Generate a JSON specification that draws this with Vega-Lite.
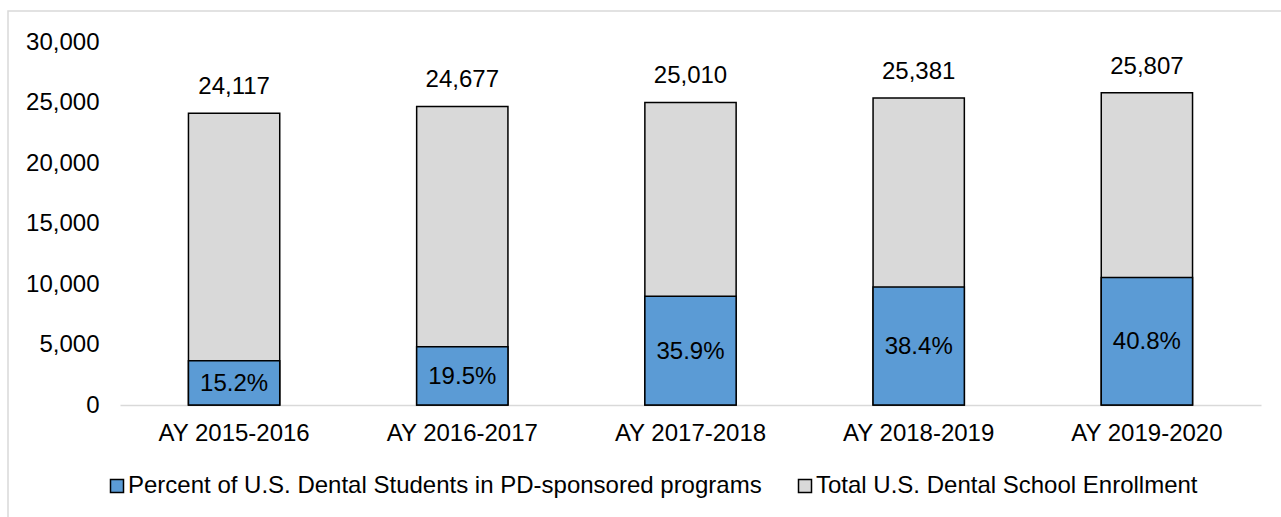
{
  "$schema": "https://vega.github.io/schema/vega-lite/v6.json",
  "width": 1274,
  "height": 507,
  "autosize": {"type": "none"},
  "padding": {"left": 8, "top": 11, "right": 0, "bottom": 0},
  "background": "white",
  "config": {
    "view": {"stroke": "#d9d9d9", "strokeWidth": 1.5},
    "font": "Liberation Sans"
  },
  "data": {
    "values": [
      {"year": "AY 2015-2016", "total": 24117, "pd": 3666, "pct": 0.152},
      {"year": "AY 2016-2017", "total": 24677, "pd": 4812, "pct": 0.195},
      {"year": "AY 2017-2018", "total": 25010, "pd": 8979, "pct": 0.359},
      {"year": "AY 2018-2019", "total": 25381, "pd": 9746, "pct": 0.384},
      {"year": "AY 2019-2020", "total": 25807, "pd": 10529, "pct": 0.408}
    ]
  },
  "encoding": {
    "x": {
      "field": "year",
      "type": "nominal",
      "sort": null,
      "scale": {"range": [112, 1253], "paddingInner": 0.6, "paddingOuter": 0.3},
      "axis": {
        "title": null,
        "labelAngle": 0,
        "labelFontSize": 24,
        "labelColor": "black",
        "domainColor": "#d9d9d9",
        "domainWidth": 1.5,
        "ticks": false,
        "tickSize": 0,
        "labelPadding": 16,
        "offset": -113
      }
    }
  },
  "layer": [
    {
      "mark": {"type": "bar", "stroke": "black", "strokeWidth": 1.5},
      "encoding": {
        "y": {
          "field": "total",
          "type": "quantitative",
          "scale": {"domain": [0, 30000], "range": [394, 31], "nice": false},
          "axis": {
            "title": null,
            "values": [0, 5000, 10000, 15000, 20000, 25000, 30000],
            "format": ",.0f",
            "domain": false,
            "ticks": false,
            "tickSize": 0,
            "grid": false,
            "labelPadding": 0,
            "offset": -91,
            "labelFontSize": 24,
            "labelColor": "black"
          }
        },
        "color": {
          "datum": "Total U.S. Dental School Enrollment",
          "scale": {
            "domain": ["Percent of U.S. Dental Students in PD-sponsored programs", "Total U.S. Dental School Enrollment"],
            "range": ["#5B9BD5", "#D9D9D9"]
          },
          "legend": {
            "title": null,
            "orient": "none",
            "legendX": 97,
            "legendY": 463,
            "direction": "horizontal",
            "symbolType": "square",
            "symbolSize": 169,
            "symbolStrokeColor": "black",
            "symbolStrokeWidth": 1.5,
            "labelFontSize": 24,
            "labelColor": "black",
            "labelOffset": -1,
            "columnPadding": 31,
            "labelLimit": 1000
          }
        }
      }
    },
    {
      "mark": {"type": "bar", "stroke": "black", "strokeWidth": 1.5},
      "encoding": {
        "y": {
          "field": "pd",
          "type": "quantitative",
          "scale": {"domain": [0, 30000], "range": [394, 31], "nice": false},
          "axis": null
        },
        "color": {"datum": "Percent of U.S. Dental Students in PD-sponsored programs"}
      }
    },
    {
      "mark": {"type": "text", "fontSize": 24, "color": "black", "baseline": "alphabetic", "dy": -19},
      "encoding": {
        "y": {
          "field": "total",
          "type": "quantitative",
          "scale": {"domain": [0, 30000], "range": [394, 31], "nice": false},
          "axis": null
        },
        "text": {"field": "total", "type": "quantitative", "format": ","}
      }
    },
    {
      "mark": {"type": "text", "fontSize": 24, "color": "black", "baseline": "alphabetic", "dy": 8},
      "encoding": {
        "y": {
          "field": "pd",
          "type": "quantitative",
          "scale": {"domain": [0, 60000], "range": [394, 31], "nice": false},
          "axis": null
        },
        "text": {"field": "pct", "type": "quantitative", "format": ".1%"}
      }
    }
  ],
  "resolve": {"scale": {"y": "independent"}}
}
